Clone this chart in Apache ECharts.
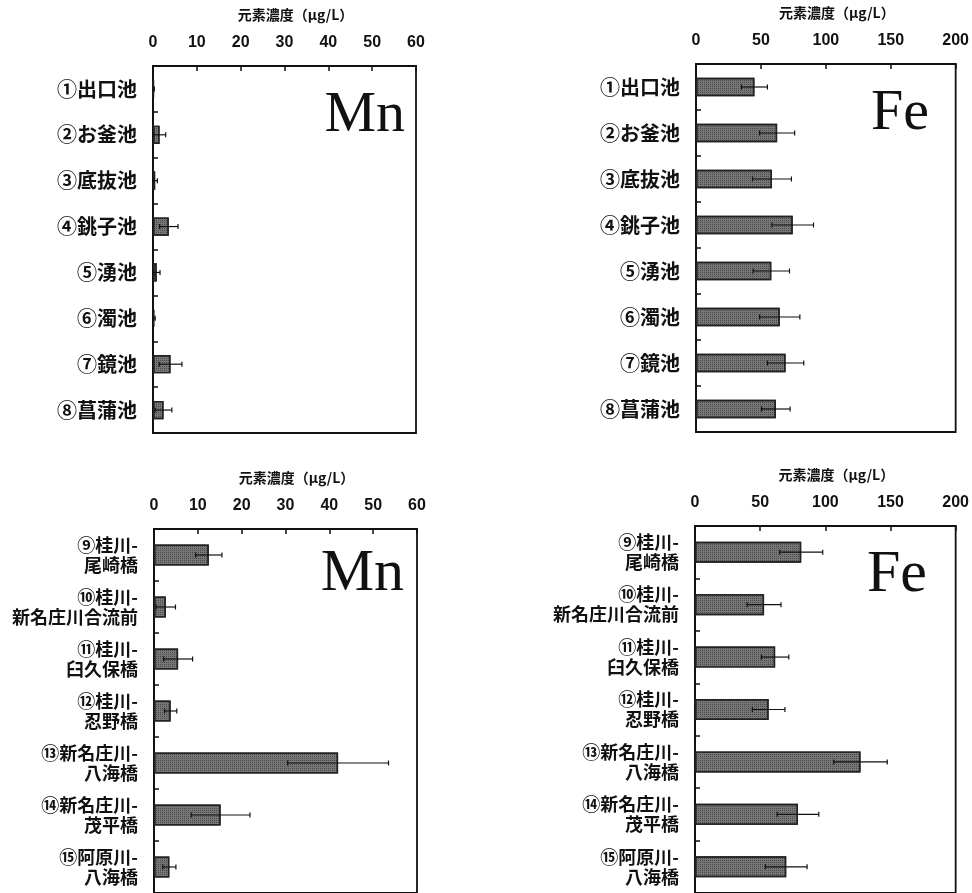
<!DOCTYPE html>
<html><head><meta charset="utf-8">
<script src="https://cdn.jsdelivr.net/npm/echarts@6/dist/echarts.min.js"></script>
<style>html,body{margin:0;padding:0;background:#fff}#c{width:972px;height:893px}</style>
</head><body><div id="c"></div>
<script>
var catTop = ['①出口池','②お釜池','③底抜池','④銚子池','⑤湧池','⑥濁池','⑦鏡池','⑧菖蒲池'];
var catBottom = ['⑨桂川-\n尾崎橋','⑩桂川-\n新名庄川合流前','⑪桂川-\n臼久保橋','⑫桂川-\n忍野橋','⑬新名庄川-\n八海橋','⑭新名庄川-\n茂平橋','⑮阿原川-\n八海橋'];
var mnTopMean = [0.2, 1.5, 0.5, 3.6, 0.85, 0.3, 4.0, 2.4];
var mnTopSd   = [0.1, 1.4, 0.5, 2.1, 0.75, 0.2, 2.6, 1.9];
var feTopMean = [45, 62.5, 58.5, 74.5, 58, 64.5, 69, 61.5];
var feTopSd   = [10, 13.5, 15, 16, 14, 15.5, 14, 11];
var mnBotMean = [12.5, 2.7, 5.5, 3.8, 42, 15.2, 3.5];
var mnBotSd   = [3, 2.2, 3.3, 1.4, 11.5, 6.7, 1.5];
var feBotMean = [81.5, 53, 61.5, 56.5, 127, 79, 70];
var feBotSd   = [16.5, 13, 10.5, 12.5, 20.5, 16, 16];
var axisName = '元素濃度（μg/L）';
var mnTicks = {min: 0, max: 60, interval: 10};
var feTicks = {min: 0, max: 200, interval: 50};

var grids = [
  {left: 153, top: 66, width: 263, height: 367},
  {left: 696, top: 64, width: 263, height: 368},
  {left: 154, top: 529, width: 263, height: 368},
  {left: 695, top: 526, width: 263, height: 369}
];
grids.forEach(function(g){ g.show = true; g.borderColor = '#111'; g.borderWidth = 1.8; g.backgroundColor = '#fff'; });

var cjk = '"Noto Sans CJK JP", "Noto Sans", sans-serif';
function xAx(i, t){
  return {gridIndex: i, type: 'value', position: 'top', min: t.min, max: t.max, interval: t.interval,
    name: axisName, nameLocation: 'middle', nameGap: 44,
    nameTextStyle: {fontFamily: cjk, fontWeight: 'bold', fontSize: 14, color: '#111', padding: [0,0,0,22]},
    axisLine: {show: true, lineStyle: {color: '#111', width: 1.8}},
    axisTick: {show: true, inside: true, length: 5, lineStyle: {color: '#111', width: 1.5}},
    axisLabel: {margin: 15, fontSize: 16, color: '#111', fontFamily: '"Liberation Sans Narrow", "Liberation Sans", sans-serif', fontWeight: 'bold'},
    splitLine: {show: false}};
}
function yAx(i, cats, fs, lh){
  return {gridIndex: i, type: 'category', data: cats, inverse: true,
    axisLine: {show: true, lineStyle: {color: '#111', width: 1.8}},
    axisTick: {show: true, inside: true, length: 5, lineStyle: {color: '#111', width: 1.5}},
    axisLabel: {margin: 16, fontSize: fs, lineHeight: lh, color: '#111', fontFamily: cjk, fontWeight: 'bold', align: 'right'},
    splitLine: {show: false}};
}
var barStyle = {color: '#777777', borderColor: '#222', borderWidth: 1.4,
  decal: {symbol: 'rect', symbolSize: 1, dashArrayX: [1, 1], dashArrayY: [1, 1], color: 'rgba(30,30,30,0.5)', rotation: 0}};
function barSeries(i, vals){
  return {type: 'bar', xAxisIndex: i, yAxisIndex: i, data: vals, barWidth: '40%', itemStyle: barStyle, silent: true};
}
function errSeries(i, mean, sd){
  var d = mean.map(function(m, k){ return [k, m - sd[k], m + sd[k]]; });
  return {type: 'custom', xAxisIndex: i, yAxisIndex: i, data: d, silent: true, z: 5,
    encode: {x: [1, 2], y: 0},
    renderItem: function(params, api){
      var idx = api.value(0);
      var lo = api.coord([Math.max(api.value(1), 0), idx]);
      var hi = api.coord([api.value(2), idx]);
      var s = {stroke: '#111', lineWidth: 1.2};
      return {type: 'group', children: [
        {type: 'line', shape: {x1: lo[0], y1: lo[1], x2: hi[0], y2: hi[1]}, style: s},
        {type: 'line', shape: {x1: lo[0], y1: lo[1]-2.5, x2: lo[0], y2: lo[1]+2.5}, style: s},
        {type: 'line', shape: {x1: hi[0], y1: hi[1]-2.5, x2: hi[0], y2: hi[1]+2.5}, style: s}
      ]};
    }};
}
var serif = '"Liberation Serif", "DejaVu Serif", serif';
function bigText(txt, x, y, size){
  return {type: 'text', x: x, y: y, z: 10, style: {text: txt, font: size + 'px ' + serif, fill: '#111', textAlign: 'right', textVerticalAlign: 'middle'}};
}
var chart = echarts.init(document.getElementById('c'), null, {renderer: 'canvas'});
chart.setOption({
  animation: false,
  backgroundColor: '#fff',
  grid: grids,
  xAxis: [xAx(0, mnTicks), xAx(1, feTicks), xAx(2, mnTicks), xAx(3, feTicks)],
  yAxis: [yAx(0, catTop, 20, 24), yAx(1, catTop, 20, 24), yAx(2, catBottom, 18, 20), yAx(3, catBottom, 18, 20)],
  series: [
    barSeries(0, mnTopMean), errSeries(0, mnTopMean, mnTopSd),
    barSeries(1, feTopMean), errSeries(1, feTopMean, feTopSd),
    barSeries(2, mnBotMean), errSeries(2, mnBotMean, mnBotSd),
    barSeries(3, feBotMean), errSeries(3, feBotMean, feBotSd)
  ],
  graphic: [
    bigText('Mn', 405, 116, 58),
    bigText('Fe', 929, 114, 58),
    bigText('Mn', 404, 574, 60),
    bigText('Fe', 927, 575, 60)
  ]
});
</script></body></html>
